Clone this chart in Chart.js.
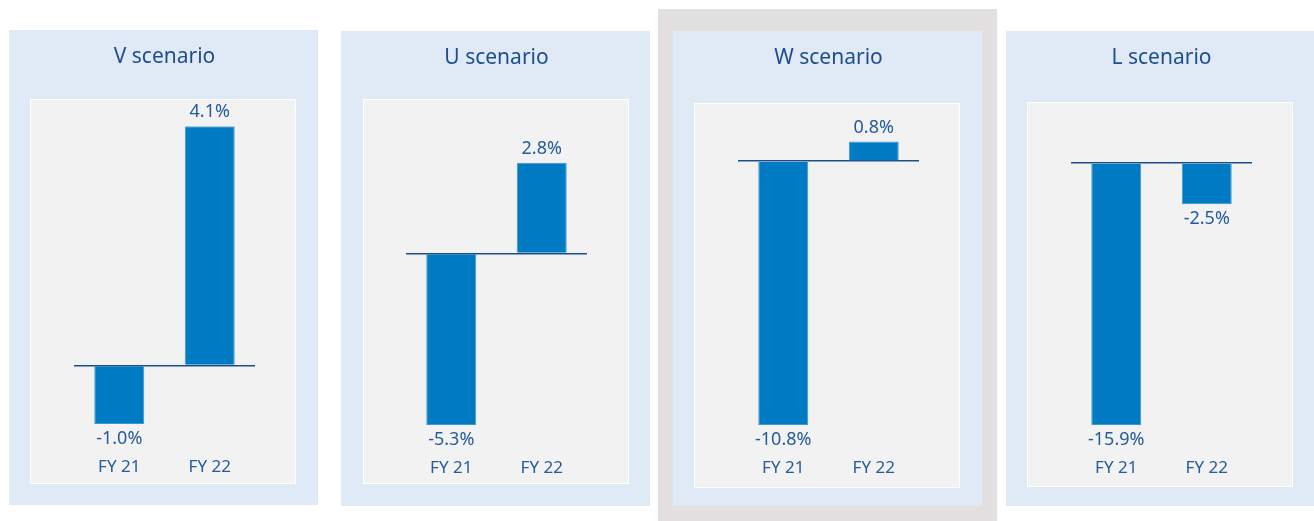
<!DOCTYPE html>
<html>
<head>
<meta charset="utf-8">
<script src="https://cdn.jsdelivr.net/npm/chart.js@4"></script>
<style>
    body { margin: 0; background: #ffffff; width: 1314px; height: 521px; overflow: hidden; position: relative; }
    .frame { position: absolute; background: #e2e0e1; }
    .panel { position: absolute; width: 309px; height: 475px; background: #dfeaf6; }
    .inner { position: absolute; width: 264px; height: 383px; background: #f2f2f2; border: 1px solid #ffffff; }
    .panel canvas { position: absolute; left: 0; top: 0; }
</style>
</head>
<body>
<div class="frame" style="left:658px; top:9px; width:339px; height:512px;"></div>
<div id="panels"></div>

<script>
// Data
const categories = ['FY 21', 'FY 22'];
const scenarios = ['V scenario', 'U scenario', 'W scenario', 'L scenario'];
const vValues = [-1.0, 4.1];
const uValues = [-5.3, 2.8];
const wValues = [-10.8, 0.8];
const lValues = [-15.9, -2.5];
const seriesValues = [vValues, uValues, wValues, lValues];

// Each panel has its own scale; axis max
const axisMax = [4.1, 3.9, 1.39, 2.18];

// Panel placement
const panelPos = [[9, 30], [341, 31], [673, 31], [1006, 31]];
const innerPos = [[21, 69], [22, 68], [21, 72], [21, 71]];

const barColor = '#007ac2';
const textColor = '#255c99';
const titleColor = '#1f4e8c';
const fontFamily = "'Noto Sans', 'Liberation Sans', sans-serif";

// Value labels above / below bars
const valueLabels = {
    id: 'valueLabels',
    afterDatasetsDraw(chart) {
        const ctx = chart.ctx;
        const meta = chart.getDatasetMeta(0);
        const data = chart.data.datasets[0].data;
        ctx.save();
        ctx.fillStyle = textColor;
        ctx.font = `18px ${fontFamily}`;
        ctx.textAlign = 'center';
        ctx.textBaseline = 'middle';
        meta.data.forEach((bar, i) => {
            const v = data[i];
            const text = v.toFixed(1) + '%';
            const y = v >= 0 ? bar.y - 14 : bar.y + 15;
            ctx.fillText(text, bar.x, y);
        });
        ctx.restore();
    }
};

function initPanel(i) {
    const panel = document.createElement('div');
    panel.className = 'panel';
    panel.style.left = panelPos[i][0] + 'px';
    panel.style.top = panelPos[i][1] + 'px';

    const inner = document.createElement('div');
    inner.className = 'inner';
    inner.style.left = innerPos[i][0] + 'px';
    inner.style.top = innerPos[i][1] + 'px';
    panel.appendChild(inner);

    const canvas = document.createElement('canvas');
    canvas.width = 309;
    canvas.height = 475;
    canvas.style.width = '309px';
    canvas.style.height = '475px';
    panel.appendChild(canvas);
    document.getElementById('panels').appendChild(panel);

    const values = seriesValues[i];
    return new Chart(canvas.getContext('2d'), {
        type: 'bar',
        data: {
            labels: categories,
            datasets: [{
                data: values,
                backgroundColor: barColor,
                borderColor: '#3d97d0',
                borderWidth: 1,
                borderSkipped: 'start',
                categoryPercentage: 1,
                barPercentage: 0.552
            }]
        },
        options: {
            responsive: false,
            animation: false,
            layout: { padding: { left: 65, right: 63, top: 0, bottom: 0 } },
            plugins: {
                legend: { display: false },
                tooltip: { enabled: false },
                title: {
                    display: true,
                    text: scenarios[i],
                    color: titleColor,
                    font: { family: fontFamily, size: 21, weight: 'normal', lineHeight: 1.2 },
                    padding: { top: 14, bottom: 57 }
                }
            },
            scales: {
                x: {
                    grid: { display: false, drawTicks: false },
                    border: { display: false },
                    ticks: {
                        color: textColor,
                        font: { family: fontFamily, size: 17 },
                        padding: 33
                    },
                    afterFit: s => { s.height = 81; }
                },
                y: {
                    min: Math.min(...values, 0),
                    max: axisMax[i],
                    border: { display: false },
                    grid: { drawTicks: false, color: '#1b4f8a', lineWidth: 1.5 },
                    ticks: { display: false },
                    afterBuildTicks: s => { s.ticks = [{ value: 0 }]; },
                    afterFit: s => { s.width = 0; }
                }
            }
        },
        plugins: [valueLabels]
    });
}

document.addEventListener('DOMContentLoaded', () => {
    scenarios.forEach((_, i) => initPanel(i));
});
</script>
</body>
</html>
